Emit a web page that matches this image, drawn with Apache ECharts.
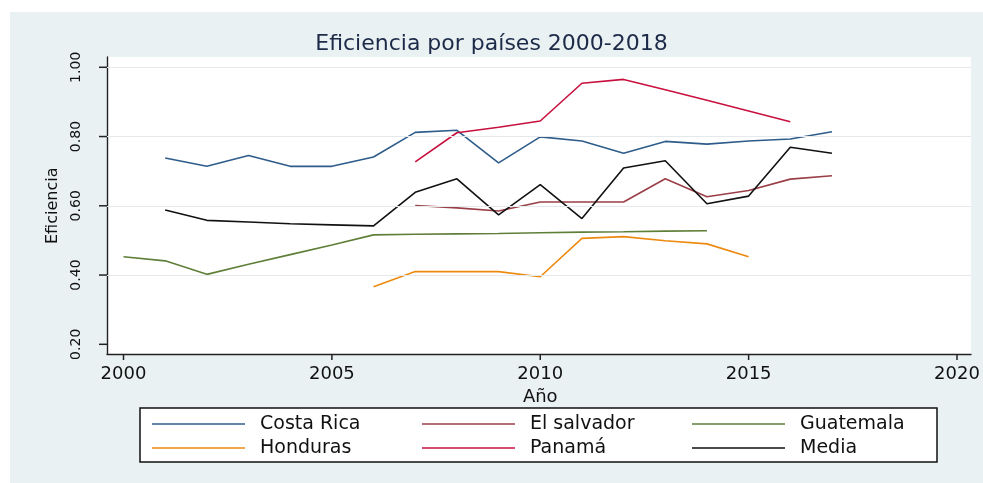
<!DOCTYPE html>
<html>
<head>
<meta charset="utf-8">
<script src="https://cdn.jsdelivr.net/npm/echarts@6/dist/echarts.min.js"></script>
<style>
html,body{margin:0;padding:0;background:#eaf1f3;overflow:hidden;}
#chart{width:983px;height:483px;}
</style>
</head>
<body>
<div id="chart"></div>
<script>
// ---- data ----
var years = [2000,2001,2002,2003,2004,2005,2006,2007,2008,2009,2010,2011,2012,2013,2014,2015,2016,2017];
var costaRica  = [null,0.738,0.714,0.745,0.714,0.714,0.741,0.812,0.818,0.724,0.799,0.787,0.752,0.786,0.778,0.787,0.793,0.814];
var elSalvador = [null,null,null,null,null,null,null,0.601,0.594,0.585,0.611,0.611,0.611,0.678,0.626,0.644,0.677,0.687];
var guatemala  = [0.453,0.441,0.402,0.431,0.459,0.487,0.516,0.518,0.519,0.520,0.522,0.524,0.525,0.527,0.528,null,null,null];
var honduras   = [null,null,null,null,null,null,0.366,0.410,0.410,0.410,0.395,0.506,0.511,0.499,0.490,0.453,null,null];
var panama     = [null,null,null,null,null,null,null,0.727,0.811,0.827,0.845,0.954,0.965,0.935,0.905,0.874,0.843,null];
var media      = [null,0.588,0.558,0.553,0.548,0.545,0.542,0.639,0.678,0.574,0.661,0.563,0.709,0.730,0.606,0.628,0.769,0.752];
var seriesNames = ['Costa Rica','El salvador','Guatemala','Honduras','Panamá','Media'];
var xTicks = [2000,2005,2010,2015,2020];
var yTicks = [0.2,0.4,0.6,0.8,1.0];
var xMin = 2000, xMax = 2020, xStep = 5;
var yMin = 0.2, yMax = 1.0, yStep = 0.2;
var yGrid = [0.4,0.6,0.8,1.0];
var titleText = 'Eficiencia por países 2000-2018';

// ---- plot-region extents (axis lines sit slightly outside the data range) ----
var x0Min = 1999.604, x0Max = 2020.336;
var y0Min = 0.172, y0Max = 1.0297;

// ---- styles ----
var colors = ['#2e5c8b','#9a3f47','#5f7f38','#ec8a10','#c8103e','#111111'];
var font = 'DejaVu Sans';
var axisColor = '#222';
var allValues = [costaRica, elSalvador, guatemala, honduras, panama, media];

function pairs(vals){
  return years.map(function(y,i){ return [y, vals[i]]; });
}

var series = [{
  name: '__grid',
  type: 'line',
  xAxisIndex: 0,
  yAxisIndex: 0,
  data: [],
  silent: true,
  z: 1,
  markLine: {
    silent: true,
    symbol: 'none',
    label: {show: false},
    lineStyle: {color: '#e5e9eb', width: 1, type: 'solid'},
    data: yGrid.map(function(v){ return {yAxis: v}; })
  }
}, {
  // x-axis tick marks, placed through the plot-region axes
  name: '__xticks',
  type: 'custom',
  xAxisIndex: 0,
  yAxisIndex: 0,
  silent: true,
  clip: false,
  z: 5,
  data: xTicks.map(function(v){ return [v, y0Min]; }),
  renderItem: function(params, api){
    var p = api.coord([api.value(0), api.value(1)]);
    return {type: 'line', shape: {x1: p[0], y1: p[1], x2: p[0], y2: p[1] + 6},
      style: {stroke: axisColor, lineWidth: 1.5}};
  }
}, {
  // y-axis tick marks
  name: '__yticks',
  type: 'custom',
  xAxisIndex: 0,
  yAxisIndex: 0,
  silent: true,
  clip: false,
  z: 5,
  data: yTicks.map(function(v){ return [x0Min, v]; }),
  renderItem: function(params, api){
    var p = api.coord([api.value(0), api.value(1)]);
    return {type: 'line', shape: {x1: p[0], y1: p[1], x2: p[0] - 8, y2: p[1]},
      style: {stroke: axisColor, lineWidth: 1.5}};
  }
}];
allValues.forEach(function(vals, k){
  series.push({
    name: seriesNames[k],
    type: 'line',
    xAxisIndex: 1,
    yAxisIndex: 1,
    data: pairs(vals),
    symbol: 'none',
    connectNulls: false,
    z: 3,
    lineStyle: {color: colors[k], width: 1.6},
    itemStyle: {color: colors[k]}
  });
});

var legendData = seriesNames.map(function(n, i){
  return {name: n, textStyle: {width: (i % 3) === 2 ? 130 : 162}};
});

var chart = echarts.init(document.getElementById('chart'), null, {renderer: 'canvas'});
chart.setOption({
  animation: false,
  backgroundColor: '#eaf1f3',
  color: colors,
  graphic: [
    {type: 'rect', shape: {x: 0, y: 0, width: 983, height: 12}, style: {fill: '#ffffff'}, z: -1, silent: true},
    {type: 'rect', shape: {x: 0, y: 0, width: 10, height: 483}, style: {fill: '#ffffff'}, z: -1, silent: true}
  ],
  title: {
    text: titleText,
    left: 'center',
    top: 33,
    padding: 0,
    textStyle: {fontFamily: font, fontSize: 22, fontWeight: 'normal', color: '#1c2a48'}
  },
  grid: [
    {left: 107, right: 12, top: 57, bottom: 129, show: true, backgroundColor: '#ffffff', borderWidth: 0},
    {left: 123.5, right: 26, top: 67.3, bottom: 138.7, show: false}
  ],
  xAxis: [
    {
      gridIndex: 0, type: 'value', min: x0Min, max: x0Max,
      axisLine: {show: true, onZero: false, lineStyle: {color: axisColor, width: 1.4}},
      axisTick: {show: false}, axisLabel: {show: false}, splitLine: {show: false}
    },
    {
      gridIndex: 1, type: 'value', min: xMin, max: xMax, interval: xStep,
      offset: 9.7,
      name: 'Año', nameLocation: 'middle', nameGap: 27,
      nameTextStyle: {fontFamily: font, fontSize: 18, color: '#111'},
      axisLine: {show: false, onZero: false},
      axisTick: {show: false},
      axisLabel: {margin: 11, fontFamily: font, fontSize: 18, color: '#111',
        formatter: function(v){ return String(Math.round(v)); }},
      splitLine: {show: false}
    }
  ],
  yAxis: [
    {
      gridIndex: 0, type: 'value', min: y0Min, max: y0Max,
      axisLine: {show: true, onZero: false, lineStyle: {color: axisColor, width: 1.4}},
      axisTick: {show: false}, axisLabel: {show: false}, splitLine: {show: false}
    },
    {
      gridIndex: 1, type: 'value', min: yMin, max: yMax, interval: yStep,
      offset: 16.5,
      name: 'Eficiencia', nameLocation: 'middle', nameGap: 45,
      nameTextStyle: {fontFamily: font, fontSize: 16, color: '#111'},
      axisLine: {show: false, onZero: false},
      axisTick: {show: false},
      axisLabel: {rotate: 90, margin: 24, fontFamily: font, fontSize: 14, color: '#111',
        formatter: function(v){ return v.toFixed(2); }},
      splitLine: {show: false}
    }
  ],
  legend: {
    data: legendData,
    left: 140,
    top: 408,
    width: 800,
    orient: 'horizontal',
    icon: 'rect',
    itemWidth: 93,
    itemHeight: 1.5,
    itemGap: 0,
    padding: [4, 7, 2, 12],
    backgroundColor: '#ffffff',
    borderColor: '#111',
    borderWidth: 1.5,
    borderRadius: 0,
    selectedMode: false,
    textStyle: {fontFamily: font, fontSize: 19, color: '#111', lineHeight: 24, height: 24, padding: [0,0,0,10]}
  },
  series: series
});
</script>
</body>
</html>
